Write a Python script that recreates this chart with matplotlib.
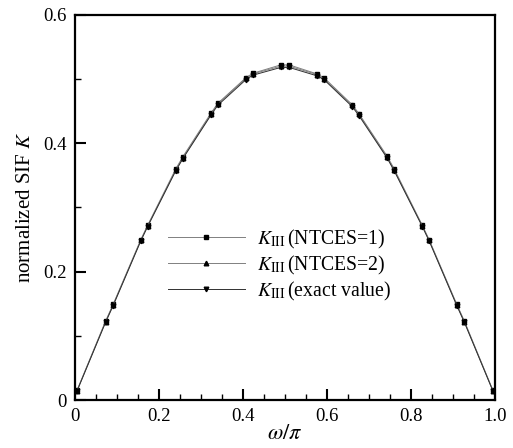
import matplotlib
matplotlib.use("Agg")
import matplotlib.pyplot as plt
from matplotlib.ticker import MultipleLocator

plt.rcParams['font.family'] = ['Liberation Serif', 'DejaVu Serif']
plt.rcParams['mathtext.fontset'] = 'stix'

omega = [0.005, 0.073, 0.091, 0.157, 0.173, 0.240, 0.257, 0.324, 0.340, 0.407, 0.424, 0.490,
         0.510, 0.576, 0.593, 0.660, 0.676, 0.743, 0.760, 0.827, 0.843, 0.909, 0.927, 0.995]
k_exact = [0.014, 0.121, 0.147, 0.248, 0.270, 0.357, 0.376, 0.444, 0.459, 0.499, 0.506, 0.518,
           0.518, 0.505, 0.499, 0.457, 0.443, 0.377, 0.357, 0.270, 0.248, 0.147, 0.121, 0.014]
k_ntces1 = [0.015, 0.123, 0.149, 0.250, 0.272, 0.360, 0.379, 0.447, 0.462, 0.502, 0.509, 0.522,
            0.522, 0.508, 0.502, 0.460, 0.446, 0.380, 0.360, 0.272, 0.250, 0.149, 0.123, 0.015]
k_ntces2 = [0.0145, 0.122, 0.148, 0.249, 0.271, 0.358, 0.377, 0.445, 0.461, 0.501, 0.508, 0.520,
            0.520, 0.507, 0.500, 0.459, 0.445, 0.378, 0.358, 0.271, 0.249, 0.148, 0.122, 0.0145]

fig = plt.figure(figsize=(5.13, 4.48), dpi=100)
ax = fig.add_axes([0.146, 0.107, 0.819, 0.86])

ax.plot(omega, k_ntces1, color='#808080', lw=0.7, marker='s', ms=3.3, mfc='black', mec='black',
        label=r'$K_{\mathrm{III}}\,$(NTCES=1)')
ax.plot(omega, k_ntces2, color='#808080', lw=0.7, marker='^', ms=3.3, mfc='black', mec='black',
        label=r'$K_{\mathrm{III}}\,$(NTCES=2)')
ax.plot(omega, k_exact, color='#303030', lw=0.7, marker='v', ms=3.3, mfc='black', mec='black',
        label=r'$K_{\mathrm{III}}\,$(exact value)')

ax.set_xlim(0, 1.0)
ax.set_ylim(0, 0.6)
ax.xaxis.set_minor_locator(MultipleLocator(0.05))
ax.yaxis.set_minor_locator(MultipleLocator(0.1))
ax.set_xticks([0, 0.2, 0.4, 0.6, 0.8, 1.0])
ax.set_xticklabels(['0', '0.2', '0.4', '0.6', '0.8', '1.0'])
ax.set_yticks([0, 0.2, 0.4, 0.6])
ax.set_yticklabels(['0', '0.2', '0.4', '0.6'])
ax.tick_params(which='both', direction='in', top=False, right=False, labelsize=13.5, width=1.0)
ax.tick_params(which='major', length=8, width=1.5, pad=6)
ax.tick_params(which='minor', length=4)
for s in ax.spines.values():
    s.set_linewidth(1.6)

ax.set_xlabel(r'$\omega/\pi$', fontsize=16, labelpad=0)
ax.set_ylabel(r'normalized SIF $K$', fontsize=15, labelpad=6)

leg = ax.legend(loc='upper left', bbox_to_anchor=(0.221, 0.447), frameon=False, fontsize=14.2,
                handlelength=3.9, numpoints=1, handletextpad=0.6, labelspacing=0.15,
                borderpad=0, borderaxespad=0)

fig.savefig('out.png', dpi=100)
